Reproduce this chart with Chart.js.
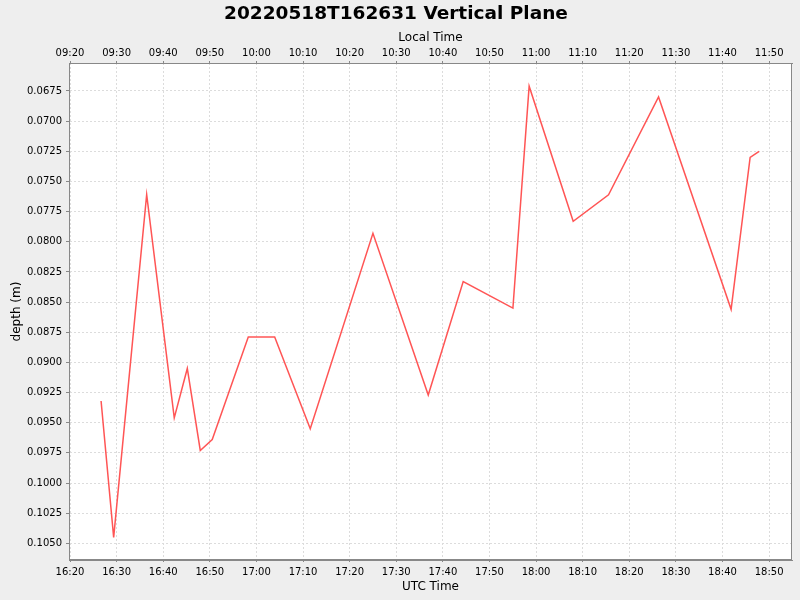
<!DOCTYPE html>
<html>
<head>
<meta charset="utf-8">
<script src="https://cdn.jsdelivr.net/npm/chart.js@4"></script>
<style>
  html, body { margin: 0; padding: 0; background: #eeeeee; }
  #wrap { width: 800px; height: 600px; }
</style>
</head>
<body>
<div id="wrap"><canvas id="chart" width="800" height="600"></canvas></div>
<script>
// samples (UTC clock time) and depth in metres
const utcTimes = ["16:26:40", "16:29:22", "16:36:27", "16:42:22", "16:45:10", "16:47:57", "16:50:31",
  "16:58:15", "17:03:55", "17:11:33", "17:25:00", "17:36:52", "17:44:22", "17:55:02", "17:58:31",
  "18:07:58", "18:15:33", "18:26:17", "18:41:51", "18:45:56", "18:47:52"];
const depths = [0.0932, 0.1045, 0.0761, 0.0946, 0.0905, 0.0973, 0.0964,
  0.0879, 0.0879, 0.0955, 0.0793, 0.0927, 0.0833, 0.0855, 0.0671,
  0.0783, 0.0761, 0.0680, 0.0856, 0.0730, 0.0725];

// axis ticks
const utcTicks = ["16:20", "16:30", "16:40", "16:50", "17:00", "17:10", "17:20", "17:30",
  "17:40", "17:50", "18:00", "18:10", "18:20", "18:30", "18:40", "18:50"];
const localTicks = ["09:20", "09:30", "09:40", "09:50", "10:00", "10:10", "10:20", "10:30",
  "10:40", "10:50", "11:00", "11:10", "11:20", "11:30", "11:40", "11:50"];
const depthTicks = [0.0675, 0.0700, 0.0725, 0.0750, 0.0775, 0.0800, 0.0825, 0.0850,
  0.0875, 0.0900, 0.0925, 0.0950, 0.0975, 0.1000, 0.1025, 0.1050];

const xMin = "16:19:47";
const xMax = "18:54:55";
const yMin = 0.06518;
const yMax = 0.10638;

// "HH:MM[:SS]" -> minutes since midnight
function toMin(s) {
  const p = s.split(":").map(Number);
  return p[0] * 60 + p[1] + (p[2] || 0) / 60;
}

const points = utcTimes.map((t, i) => ({ x: toMin(t), y: depths[i] }));

const FONT = "'DejaVu Sans', sans-serif";
const gridColor = "#dcdcdc";
const axisColor = "#888888";

const plotBg = {
  id: "plotBg",
  beforeDraw(chart) {
    const { ctx, chartArea: a } = chart;
    ctx.save();
    ctx.fillStyle = "#ffffff";
    ctx.fillRect(a.left, a.top, a.right - a.left, a.bottom - a.top);
    ctx.restore();
  },
  afterDraw(chart) {
    const { ctx, chartArea: a } = chart;
    ctx.save();
    ctx.strokeStyle = axisColor;
    ctx.lineWidth = 1;
    ctx.strokeRect(a.left + 0.5, a.top + 0.5, a.right - a.left - 1, a.bottom - a.top - 1);
    ctx.restore();
  }
};

new Chart(document.getElementById("chart"), {
  type: "line",
  data: {
    datasets: [{
      data: points,
      borderColor: "#ff5555",
      borderWidth: 1.5,
      pointRadius: 0,
      tension: 0,
      fill: false,
      xAxisID: "x",
      yAxisID: "y"
    }]
  },
  options: {
    responsive: false,
    animation: false,
    layout: { padding: { left: 0, right: 8, top: 0, bottom: 0 } },
    plugins: {
      legend: { display: false },
      tooltip: { enabled: false },
      title: {
        display: true,
        text: "20220518T162631 Vertical Plane",
        color: "#000000",
        font: { family: FONT, size: 18.5, weight: "bold", lineHeight: 1.3 },
        padding: { top: 2, bottom: 0 }
      }
    },
    scales: {
      x: {
        type: "linear",
        position: "bottom",
        min: toMin(xMin),
        max: toMin(xMax),
        afterBuildTicks: s => { s.ticks = utcTicks.map(t => ({ value: toMin(t) })); },
        afterFit: s => { s.height = 40; },
        ticks: {
          autoSkip: false,
          maxRotation: 0,
          padding: 4,
          color: "#000000",
          font: { family: FONT, size: 10 },
          callback: (v, i) => utcTicks[i]
        },
        grid: { color: gridColor, tickColor: axisColor, tickLength: 2, tickBorderDash: [] },
        border: { display: true, color: axisColor, dash: [2, 2] },
        title: { display: true, text: "UTC Time", color: "#000000",
          font: { family: FONT, size: 12 }, padding: { top: 0, bottom: 6 } }
      },
      x2: {
        type: "linear",
        position: "top",
        min: toMin(xMin),
        max: toMin(xMax),
        afterBuildTicks: s => { s.ticks = localTicks.map(t => ({ value: toMin(t) + 7 * 60 })); },
        afterFit: s => { s.height = 36.95; },
        ticks: {
          autoSkip: false,
          maxRotation: 0,
          padding: 1.5,
          color: "#000000",
          font: { family: FONT, size: 10 },
          callback: (v, i) => localTicks[i]
        },
        grid: { drawOnChartArea: false, tickColor: axisColor, tickLength: 2 },
        border: { display: true, color: axisColor },
        title: { display: true, text: "Local Time", color: "#000000",
          font: { family: FONT, size: 12 }, padding: { top: 5, bottom: 0 } }
      },
      y: {
        type: "linear",
        reverse: true,
        min: yMin,
        max: yMax,
        afterBuildTicks: s => { s.ticks = depthTicks.map(v => ({ value: v })); },
        afterFit: s => { s.width = 69; },
        ticks: {
          padding: 4,
          color: "#000000",
          font: { family: FONT, size: 10 },
          callback: v => v.toFixed(4)
        },
        grid: { color: gridColor, tickColor: axisColor, tickLength: 3, tickBorderDash: [] },
        border: { display: true, color: axisColor, dash: [2, 2] },
        title: { display: true, text: "depth (m)", color: "#000000",
          font: { family: FONT, size: 12 }, padding: { top: 10, bottom: 0 } }
      }
    }
  },
  plugins: [plotBg]
});
</script>
</body>
</html>
